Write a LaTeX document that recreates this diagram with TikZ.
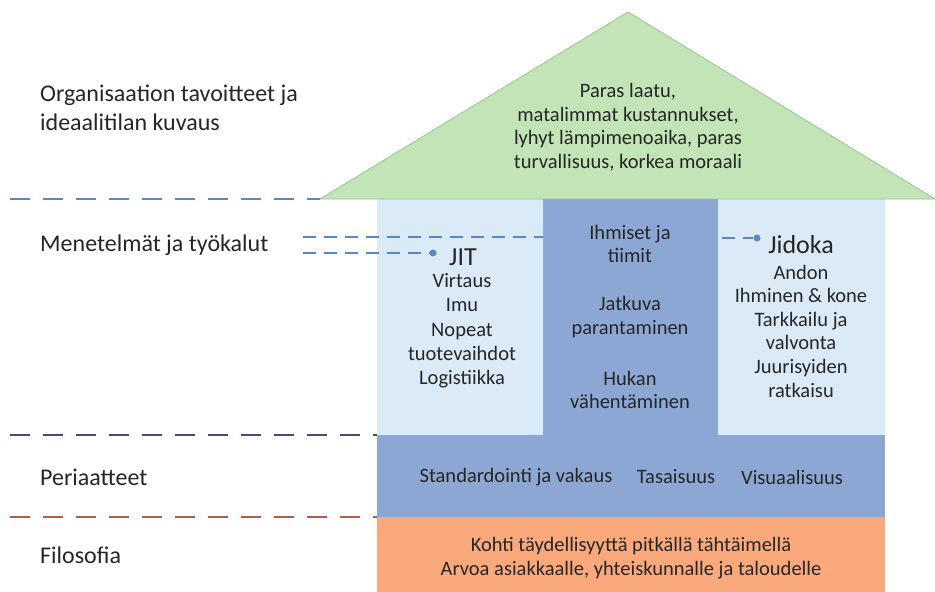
\documentclass[tikz,border=0pt]{standalone}
\usepackage{fontspec}
\setmainfont{Carlito}
\usetikzlibrary{positioning}
\definecolor{roofgreen}{HTML}{C2E4B7}
\definecolor{roofedge}{HTML}{94C98C}
\definecolor{pillarlight}{HTML}{DBEAF7}
\definecolor{pillardark}{HTML}{8CA7D3}
\definecolor{baseorange}{HTML}{F9A97B}
\definecolor{lineblue}{HTML}{5B87C6}
\definecolor{linenavy}{HTML}{474C7E}
\definecolor{linered}{HTML}{B65A4C}
\definecolor{textdark}{HTML}{262626}
\tikzset{
  levelname/.style={anchor=west, align=left, text=textdark, inner sep=0pt, font=\fontsize{24}{29}\selectfont},
  housetext/.style={align=center, text=textdark, inner sep=0pt, font=\fontsize{20.5}{23.6}\selectfont},
  pillarhead/.style={text=textdark, inner sep=0pt, font=\fontsize{26}{28}\selectfont},
  levelline/.style={line width=2.2pt, dash pattern=on 20pt off 13pt},
  toolline/.style={line width=1.8pt, lineblue, dash pattern=on 13pt off 8pt},
  tooldot/.style={circle, fill=lineblue, inner sep=0pt, minimum size=7pt}
}
\begin{document}
\begin{tikzpicture}[x=1pt, y=-1pt]
  \useasboundingbox (0,0) rectangle (935,592);

  % House body
  \coordinate (roofL) at (320,199);
  \coordinate (apex) at (628,12);
  \coordinate (roofR) at (935,199);
  \fill[pillarlight] (377,199) rectangle (885,435);
  \fill[pillardark] (543,199) rectangle (718,435);
  \fill[pillardark] (377,435) rectangle (885,517);
  \fill[baseorange] (377,517) rectangle (885,592);
  \filldraw[fill=roofgreen, draw=roofedge, line width=0.8pt] (roofL) -- (apex) -- (roofR) -- cycle;

  % Texts inside the house
  \node[housetext] (goals) at (628,127) {Paras laatu,\\matalimmat kustannukset,\\lyhyt lämpimenoaika, paras\\turvallisuus, korkea moraali};
  \node[housetext] (people) at (630,244) {Ihmiset ja\\tiimit};
  \node[housetext] (kaizen) at (630,317) {Jatkuva\\parantaminen};
  \node[housetext] (waste) at (630,390) {Hukan\\vähentäminen};
  \node[pillarhead] (jit) at (463,257) {JIT};
  \node[housetext, font=\fontsize{20.5}{24.3}\selectfont] (jitlist) at (462,331) {Virtaus\\Imu\\Nopeat\\tuotevaihdot\\Logistiikka};
  \node[pillarhead] (jidoka) at (801,245) {Jidoka};
  \node[housetext] (jidokalist) at (801,331) {Andon\\Ihminen \& kone\\Tarkkailu ja\\valvonta\\Juurisyiden\\ratkaisu};
  \node[housetext] (std) at (516,477) {Standardointi ja vakaus};
  \node[housetext] (heijunka) at (676,477) {Tasaisuus};
  \node[housetext] (visual) at (792,477) {Visuaalisuus};
  \node[housetext] (philo) at (631,558) {Kohti täydellisyyttä pitkällä tähtäimellä\\Arvoa asiakkaalle, yhteiskunnalle ja taloudelle};

  % Level names
  \node[levelname] (lgoals) at (40,108) {Organisaation tavoitteet ja\\ideaalitilan kuvaus};
  \node[levelname] (ltools) at (40,245) {Menetelmät ja työkalut};
  \node[levelname] (lprinc) at (40,477) {Periaatteet};
  \node[levelname] (lphilo) at (40,555) {Filosofia};

  % Level separators
  \coordinate (s1) at (10,199);
  \coordinate (s2) at (10,435);
  \coordinate (s3) at (10,517);
  \coordinate (b2) at (377,435);
  \coordinate (b3) at (377,517);
  \draw[levelline, lineblue] (s1) -- (roofL);
  \draw[levelline, linenavy] (s2) -- (b2);
  \draw[levelline, linered] (s3) -- (b3);

  % Tool pointers
  \coordinate (t1) at (303,237);
  \coordinate (t2) at (303,253);
  \coordinate (pillarL) at (543,237);
  \coordinate (t3) at (722,238);
  \node[tooldot] (jitdot) at (433,253) {};
  \node[tooldot] (jidokadot) at (757,238) {};
  \draw[toolline] (t1) -- (pillarL);
  \draw[toolline] (t2) -- (jitdot);
  \draw[toolline] (t3) -- (jidokadot);
\end{tikzpicture}
\end{document}
